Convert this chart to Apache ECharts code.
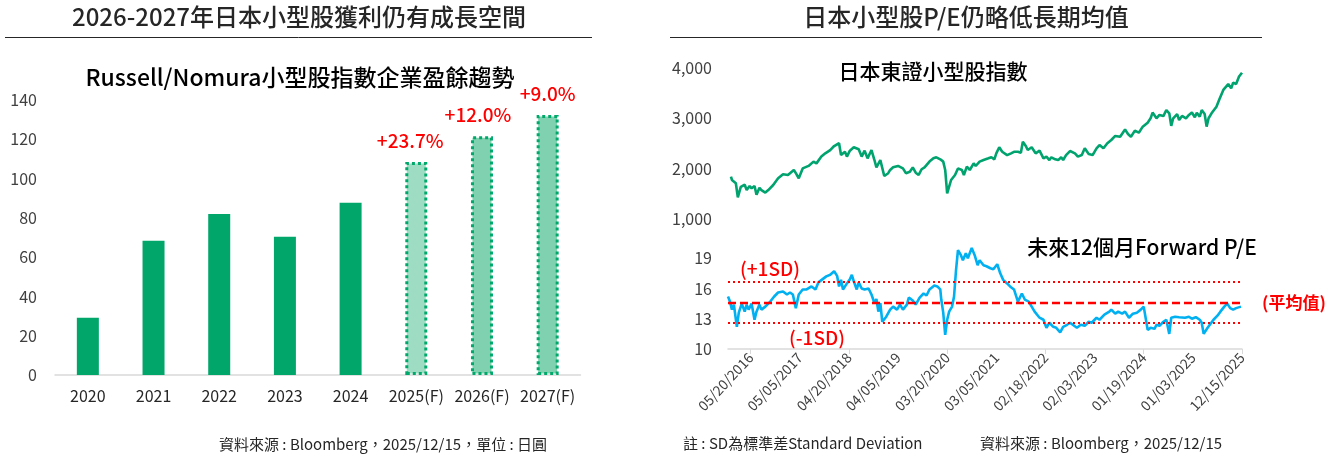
<!DOCTYPE html>
<html>
<head>
<meta charset="utf-8">
<script src="https://cdn.jsdelivr.net/npm/echarts@6/dist/echarts.min.js"></script>
<style>
html,body{margin:0;padding:0;background:#fff;}
#main{width:1333px;height:456px;}
</style>
</head>
<body>
<div id="main"></div>
<script>
// ---------- Left chart data ----------
const BAR_CATEGORIES = ['2020', '2021', '2022', '2023', '2024', '2025(F)', '2026(F)', '2027(F)'];
const BAR_VALUES = [29.1, 68.4, 82, 70.4, 87.7, 108.5, 121.5, 132.4];
const GROWTH_LABELS = ['', '', '', '', '', '+23.7%', '+12.0%', '+9.0%'];
const FORECAST_FROM = 5;

// ---------- Right chart data ----------
// weekly category axis; index 0 = first data week
const WEEK_COUNT = 524;
const FIRST_TICK_INDEX = 23;
const TICK_STEP = 50;
const DATE_TICK_LABELS = ['05/20/2016', '05/05/2017', '04/20/2018', '04/05/2019', '03/20/2020',
  '03/05/2021', '02/18/2022', '02/03/2023', '01/19/2024', '01/03/2025', '12/15/2025'];

const INDEX_WEEKS = [3, 4, 8, 10, 13, 17, 19, 22, 24, 27, 29, 32, 34, 38, 41, 46, 51, 56, 61, 67, 69, 72, 76, 82, 87, 90, 95, 99, 104, 108,
  113, 115, 119, 121, 124, 128, 133, 136, 139, 142, 146, 149, 151, 155, 159, 163, 165, 168, 173, 178, 181, 185, 188, 191, 194, 197, 200,
  205, 209, 212, 216, 219, 221, 223, 225, 227, 231, 234, 238, 240, 243, 246, 250, 252, 256, 260, 265, 268, 271, 273, 276, 279, 284, 288,
  291, 295, 298, 300, 303, 305, 309, 313, 317, 321, 324, 327, 329, 333, 336, 339, 341, 344, 348, 353, 356, 360, 363, 367, 371, 375, 378,
  382, 386, 390, 394, 399, 404, 407, 410, 414, 418, 422, 427, 430, 432, 436, 439, 443, 446, 449, 451, 453, 457, 459, 462, 466, 469, 472,
  475, 477, 480, 482, 485, 487, 489, 492, 497, 500, 504, 509, 512, 514, 517, 520, 523];
const INDEX_VALUES = [1840, 1775, 1710, 1430, 1640, 1680, 1575, 1655, 1610, 1655, 1480, 1620, 1575, 1525, 1575, 1675, 1810, 1890, 1875, 1975, 1910, 1810, 2005, 2055, 2140, 2105, 2240, 2305, 2370, 2450,
  2505, 2270, 2337, 2240, 2357, 2425, 2385, 2240, 2357, 2205, 2370, 2172, 2025, 2170, 1855, 1910, 1975, 2027, 2055, 2007, 1910, 1940, 2025, 1920, 1875, 1988, 2025,
  2140, 2205, 2225, 2186, 2140, 1975, 1510, 1642, 1775, 1874, 2005, 1974, 1875, 2040, 1974, 2105, 2053, 2140, 2172, 2205, 2226, 2186, 2305, 2425, 2337, 2270, 2305,
  2335, 2337, 2317, 2535, 2450, 2370, 2425, 2305, 2357, 2205, 2238, 2170, 2226, 2186, 2170, 2226, 2172, 2270, 2350, 2305, 2240, 2272, 2405, 2290, 2270, 2405, 2470,
  2405, 2505, 2570, 2650, 2635, 2780, 2689, 2635, 2755, 2715, 2835, 2914, 3000, 3115, 3001, 3067, 3045, 3165, 3100, 2850, 3001, 3085, 2967, 3047, 3001, 3067, 3115,
  3021, 3113, 3033, 3165, 3086, 2835, 3001, 3100, 3230, 3380, 3565, 3680, 3595, 3710, 3682, 3830, 3905];

const PE_WEEKS = [0, 2, 4, 6, 9, 11, 14, 17, 19, 21, 24, 27, 29, 32, 34, 38, 43, 47, 51, 56, 60, 63, 66, 69, 72, 76, 80, 85, 89, 92, 96, 100, 104, 108,
  111, 113, 115, 117, 121, 124, 126, 128, 131, 133, 136, 139, 143, 146, 149, 151, 153, 155, 157, 161, 165, 168, 172, 175, 178, 182, 184, 188, 191, 195, 199,
  202, 205, 210, 213, 216, 217, 219, 221, 223, 225, 228, 230, 232, 234, 237, 239, 242, 244, 248, 251, 254, 256, 260, 263, 267, 270, 274, 277, 280, 284, 287,
  291, 295, 299, 302, 306, 309, 312, 314, 317, 321, 324, 327, 331, 334, 338, 341, 345, 348, 355, 359, 363, 367, 370, 375, 378, 383, 388, 390, 394, 397, 401,
  404, 408, 412, 416, 420, 423, 427, 430, 434, 436, 439, 443, 446, 449, 451, 455, 459, 465, 469, 472, 476, 480, 482, 484, 488, 491, 494, 498, 501, 505, 508,
  511, 514, 517, 519, 522];
const PE_VALUES = [15.2, 14.7, 13.9, 14.4, 12.2, 13.6, 14.5, 13.7, 14.4, 13.9, 14.5, 12.9, 13.7, 14.4, 13.9, 14.2, 14.7, 15.2, 15.6, 15.7, 15.4, 15.6, 15.4, 14.05, 15.4, 15.9, 15.9, 16.2, 15.9, 16.6, 16.9, 17.2, 17.35, 17.7,
  17.25, 16.2, 16.85, 15.9, 16.5, 16.9, 17.35, 16.7, 15.9, 16.6, 16.0, 15.9, 16.0, 15.4, 14.55, 14.95, 13.7, 14.55, 12.7, 13.2, 13.9, 14.2, 13.9, 14.4, 13.9, 14.4, 15.1, 14.8, 14.4, 15.1, 15.5,
  15.3, 15.9, 16.3, 16.2, 15.9, 14.9, 13.6, 11.4, 12.9, 13.7, 14.2, 15.2, 17.8, 19.8, 19.3, 18.8, 19.5, 19.0, 20.0, 19.3, 18.3, 18.8, 18.3, 18.2, 18.0, 17.9, 18.4, 17.5, 16.85, 16.5, 16.2,
  15.9, 14.7, 15.5, 14.9, 14.7, 14.2, 13.7, 13.7, 13.1, 12.9, 12.1, 12.6, 12.2, 12.1, 11.65, 12.2, 12.4, 12.6, 12.1, 12.4, 12.3, 12.7, 12.6, 13.1, 12.9, 13.4, 13.7, 13.9, 13.5, 13.7, 13.5,
  13.7, 13.1, 13.5, 13.6, 13.9, 14.2, 11.9, 12.1, 12.0, 12.4, 12.3, 12.7, 12.9, 11.5, 13.1, 13.2, 13.15, 13.1, 13.2, 13.0, 13.15, 12.9, 12.6, 11.5, 12.1, 12.5, 12.9, 13.3, 13.7, 14.2, 14.5,
  14.05, 13.9, 14.05, 14.2, 14.2];
const PE_MEAN = 14.6;
const PE_PLUS_SD = 16.63;
const PE_MINUS_SD = 12.57;

// ---------- Build ----------
const FONT = '"Noto Sans CJK TC", "Noto Sans", sans-serif';
const weekCategories = Array.from({ length: WEEK_COUNT }, (_, i) => String(i));
const pairs = (xs, ys) => xs.map((x, i) => [x, ys[i]]);
const comma = v => String(v).replace(/\B(?=(\d{3})+(?!\d))/g, ',');

const SOLID_GREEN = '#00A66A';
const BORDER_GREEN = '#00A86B';
const FORECAST_FILLS = ['#9FDCC4', '#80D1AF', '#80D1AF'];
const LABEL_OFFSETS = [[-6, 0], [-4, 0], [0, 0]];

const barData = BAR_VALUES.map((v, i) => {
  if (i < FORECAST_FROM) {
    return { value: v, itemStyle: { color: SOLID_GREEN } };
  }
  const k = i - FORECAST_FROM;
  return {
    value: v,
    itemStyle: { color: FORECAST_FILLS[k], borderColor: BORDER_GREEN, borderWidth: 3, borderType: [3, 3] },
    label: { show: true, formatter: GROWTH_LABELS[i], offset: LABEL_OFFSETS[k] }
  };
});

const chart = echarts.init(document.getElementById('main'), null, { renderer: 'canvas' });

const axisLabelBase = { color: '#404040', fontFamily: FONT, fontSize: 16 };

function txt(x, y, text, size, fill, weight, align) {
  return {
    type: 'text', x: x, y: y,
    style: { text: text, font: (weight || 'normal') + ' ' + size + 'px ' + FONT, fill: fill,
      textAlign: align || 'center', textVerticalAlign: 'middle' }
  };
}

const option = {
  animation: false,
  backgroundColor: '#ffffff',
  textStyle: { fontFamily: FONT },
  grid: [
    { left: 55, right: 1333 - 580.5, top: 100, bottom: 81 },
    { left: 728, right: 1333 - 1242, top: 68, bottom: 456 - 219 },
    { left: 728, right: 1333 - 1242, top: 238, bottom: 456 - 349 }
  ],
  xAxis: [
    {
      gridIndex: 0, type: 'category', data: BAR_CATEGORIES,
      axisLine: { lineStyle: { color: '#d9d9d9', width: 1.5 } },
      axisTick: { show: false },
      axisLabel: Object.assign({}, axisLabelBase, { color: '#262626', fontSize: 16, margin: 13, interval: 0 })
    },
    {
      gridIndex: 1, type: 'category', data: weekCategories, boundaryGap: false,
      axisLine: { show: false }, axisTick: { show: false }, axisLabel: { show: false }, splitLine: { show: false }
    },
    {
      gridIndex: 2, type: 'category', data: weekCategories, boundaryGap: false,
      axisLine: { lineStyle: { color: '#d9d9d9', width: 1.5 } },
      axisTick: {
        show: true, length: 5, lineStyle: { color: '#d9d9d9' },
        interval: (idx) => idx >= FIRST_TICK_INDEX && (idx - FIRST_TICK_INDEX) % (TICK_STEP * 2) === 0
      },
      axisLabel: Object.assign({}, axisLabelBase, {
        fontSize: 14, rotate: 47, margin: 6,
        interval: (idx) => idx >= FIRST_TICK_INDEX && (idx - FIRST_TICK_INDEX) % TICK_STEP === 0,
        formatter: (val, idx) => {
          const k = (idx - FIRST_TICK_INDEX) / TICK_STEP;
          return DATE_TICK_LABELS[k] || '';
        }
      })
    }
  ],
  yAxis: [
    {
      gridIndex: 0, type: 'value', min: 0, max: 140, interval: 20,
      axisLine: { show: false }, axisTick: { show: false }, splitLine: { show: false },
      axisLabel: Object.assign({}, axisLabelBase, { margin: 18 })
    },
    {
      gridIndex: 1, type: 'value', min: 1000, max: 4000, interval: 1000,
      axisLine: { show: false }, axisTick: { show: false }, splitLine: { show: false },
      axisLabel: Object.assign({}, axisLabelBase, { margin: 16, formatter: comma })
    },
    {
      gridIndex: 2, type: 'value', min: 10, max: 21, interval: 3,
      axisLine: { show: false }, axisTick: { show: false }, splitLine: { show: false },
      axisLabel: Object.assign({}, axisLabelBase, { margin: 16, showMaxLabel: false,
        formatter: v => ((v - 10) % 3 === 0 ? String(v) : '') })
    }
  ],
  series: [
    {
      type: 'bar', xAxisIndex: 0, yAxisIndex: 0, barWidth: 22,
      data: barData,
      label: { show: false, position: 'top', distance: 12, color: '#FF0000', fontSize: 19, fontWeight: 500, fontFamily: FONT }
    },
    {
      type: 'line', xAxisIndex: 1, yAxisIndex: 1, showSymbol: false, symbol: 'none',
      data: pairs(INDEX_WEEKS, INDEX_VALUES),
      lineStyle: { color: '#00A36E', width: 2.6 }
    },
    {
      type: 'line', xAxisIndex: 2, yAxisIndex: 2, showSymbol: false, symbol: 'none',
      data: pairs(PE_WEEKS, PE_VALUES),
      lineStyle: { color: '#00B0F0', width: 2.6 },
      markLine: {
        silent: true, symbol: 'none', label: { show: false },
        lineStyle: { color: '#FF0000' },
        data: [
          { yAxis: PE_MEAN, lineStyle: { color: '#FF0000', type: [8, 4], width: 2.4 } },
          { yAxis: PE_PLUS_SD, lineStyle: { color: '#FF0000', type: [2, 3], width: 2 } },
          { yAxis: PE_MINUS_SD, lineStyle: { color: '#FF0000', type: [2, 3], width: 2 } }
        ]
      }
    }
  ],
  graphic: [
    // titles
    txt(299, 17, '2026-2027年日本小型股獲利仍有成長空間', 24, '#262626', 500),
    { type: 'line', shape: { x1: 5, y1: 37.5, x2: 592, y2: 37.5 }, style: { stroke: '#262626', lineWidth: 1 } },
    txt(966, 17, '日本小型股P/E仍略低長期均值', 24, '#262626', 500),
    { type: 'line', shape: { x1: 670, y1: 37.5, x2: 1262, y2: 37.5 }, style: { stroke: '#262626', lineWidth: 1 } },
    // left subtitle
    txt(300, 77, 'Russell/Nomura小型股指數企業盈餘趨勢', 23, '#000000', 500),
    // right chart annotations
    txt(933, 71, '日本東證小型股指數', 21, '#000000', 500),
    txt(1142, 247, '未來12個月Forward P/E', 21, '#000000', 500),
    txt(770, 269, '(+1SD)', 19, '#FF0000', 500),
    txt(817, 338, '(-1SD)', 19, '#FF0000', 500),
    txt(1294, 303, '(平均值)', 17, '#FF0000', 'bold'),
    // footnotes
    txt(219, 444, '資料來源 : Bloomberg，2025/12/15，單位 : 日圓', 15, '#262626', 'normal', 'left'),
    txt(683, 443, '註 : SD為標準差Standard Deviation', 15, '#262626', 'normal', 'left'),
    txt(980, 443, '資料來源 : Bloomberg，2025/12/15', 15, '#262626', 'normal', 'left')
  ]
};

chart.setOption(option);
</script>
</body>
</html>
